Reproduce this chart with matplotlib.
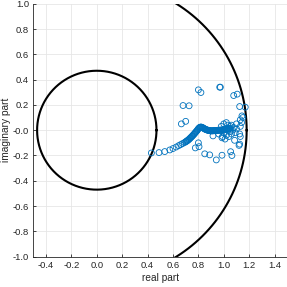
import numpy as np
import matplotlib
matplotlib.use("Agg")
import matplotlib.pyplot as plt

# radii of the two reference circles (centred at the origin)
inner_radius = 0.47
outer_radius = 1.18

# dense trail of points
trail_x = [0.43, 0.49, 0.535, 0.575, 0.60, 0.625, 0.645, 0.66, 0.675, 0.69,
           0.70, 0.705, 0.71, 0.715, 0.72, 0.725, 0.73, 0.735, 0.74, 0.745,
           0.75, 0.755, 0.76, 0.765, 0.77, 0.775, 0.78, 0.785, 0.79, 0.795,
           0.80, 0.805, 0.81, 0.815, 0.82, 0.825, 0.83, 0.835, 0.84, 0.845,
           0.85, 0.855, 0.86, 0.865, 0.87, 0.875, 0.88, 0.885, 0.89, 0.895,
           0.90, 0.905, 0.91, 0.915, 0.92, 0.925, 0.93, 0.935, 0.94, 0.945,
           0.95, 0.955, 0.96, 0.965, 0.97, 0.975, 0.98, 0.985, 0.99, 0.995,
           1.00, 1.005, 1.01, 1.015, 1.02, 1.025, 1.03, 1.035, 1.04, 1.045, 1.05]
trail_y = [-0.180, -0.177, -0.169, -0.156, -0.145, -0.133, -0.122, -0.114, -0.106, -0.098,
           -0.092, -0.088, -0.085, -0.081, -0.077, -0.073, -0.068, -0.063, -0.058, -0.053,
           -0.048, -0.043, -0.037, -0.032, -0.026, -0.020, -0.014, -0.008, -0.002, 0.005,
           0.012, 0.017, 0.022, 0.024, 0.025, 0.024, 0.022, 0.019, 0.016, 0.013,
           0.010, 0.007, 0.005, 0.003, 0.001, 0.000, -0.002, -0.003, -0.004, -0.005,
           -0.005, -0.005, -0.005, -0.005, -0.004, -0.004, -0.003, -0.003, -0.002, -0.002,
           -0.001, -0.001, 0.000, 0.000, 0.000, 0.000, 0.001, 0.001, 0.002, 0.002,
           0.003, 0.004, 0.005, 0.006, 0.007, 0.008, 0.010, 0.011, 0.012, 0.013, 0.015]

# scattered points
scat_x = [0.80, 0.82, 0.968, 0.973, 1.078, 1.106, 1.125, 1.169, 1.143, 1.130,
          0.679, 0.727, 0.700, 0.666, 1.13, 1.125, 1.13, 1.125, 1.085, 1.12,
          0.80, 0.805, 0.776, 0.85, 0.889, 0.941, 0.986, 1.054, 1.064,
          0.915, 0.986, 0.96, 1.10, 1.14, 1.15,
          0.98, 1.00, 1.02, 1.03, 1.05, 1.00, 1.02, 1.04, 1.06, 1.07,
          1.08, 0.99, 1.01, 1.03, 1.05, 1.09, 1.10, 1.06]
scat_y = [0.319, 0.298, 0.340, 0.340, 0.274, 0.285, 0.187, 0.182, 0.113, 0.082,
          0.195, 0.193, 0.070, 0.050, 0.030, -0.030, -0.050, -0.110, -0.080, -0.12,
          -0.100, -0.130, -0.140, -0.187, -0.195, -0.235, -0.198, -0.170, -0.200,
          -0.045, -0.060, -0.030, 0.05, 0.06, 0.10,
          0.030, 0.050, 0.060, 0.040, 0.030, -0.020, -0.040, -0.050, -0.030, 0.000,
          0.020, -0.050, -0.070, 0.000, -0.010, -0.02, 0.01, 0.04]

blue = "#0072BD"
gray = "#262626"

fig = plt.figure(figsize=(2.87, 2.87), dpi=100)
ax = fig.add_axes([0.116, 0.1056, 0.885, 0.8815])

t = np.linspace(0, 2 * np.pi, 400)
ax.plot(inner_radius * np.cos(t), inner_radius * np.sin(t), color="black", lw=1.5)
ax.plot(outer_radius * np.cos(t), outer_radius * np.sin(t), color="black", lw=1.5)

ax.scatter(trail_x, trail_y, s=18, facecolors="none", edgecolors=blue, linewidths=0.6, zorder=3)
ax.scatter(scat_x, scat_y, s=18, facecolors="none", edgecolors=blue, linewidths=0.6, zorder=3)

ax.set_xlim(-0.5, 1.5)
ax.set_ylim(-1.0, 1.0)
ax.set_xticks(np.arange(-0.4, 1.41, 0.2))
ax.set_yticks(np.arange(-1.0, 1.01, 0.2))
ax.xaxis.set_major_formatter(matplotlib.ticker.FormatStrFormatter("%.1f"))
ax.yaxis.set_major_formatter(matplotlib.ticker.FormatStrFormatter("%.1f"))

ax.grid(True, color="#e6e6e6", lw=0.6)
ax.set_axisbelow(True)
ax.spines["top"].set_visible(False)
ax.spines["right"].set_visible(False)
for s in ("left", "bottom"):
    ax.spines[s].set_color(gray)
    ax.spines[s].set_linewidth(0.6)
ax.tick_params(direction="in", length=2.5, width=0.6, colors=gray,
               labelsize=6.8, labelfontfamily="Liberation Sans", pad=3)

ax.set_xlabel("real part", fontsize=7.3, family="Liberation Sans", color=gray, labelpad=2)
ax.set_ylabel("imaginary part", fontsize=7.3, family="Liberation Sans", color=gray, labelpad=1)

fig.savefig("out.png", dpi=100)
